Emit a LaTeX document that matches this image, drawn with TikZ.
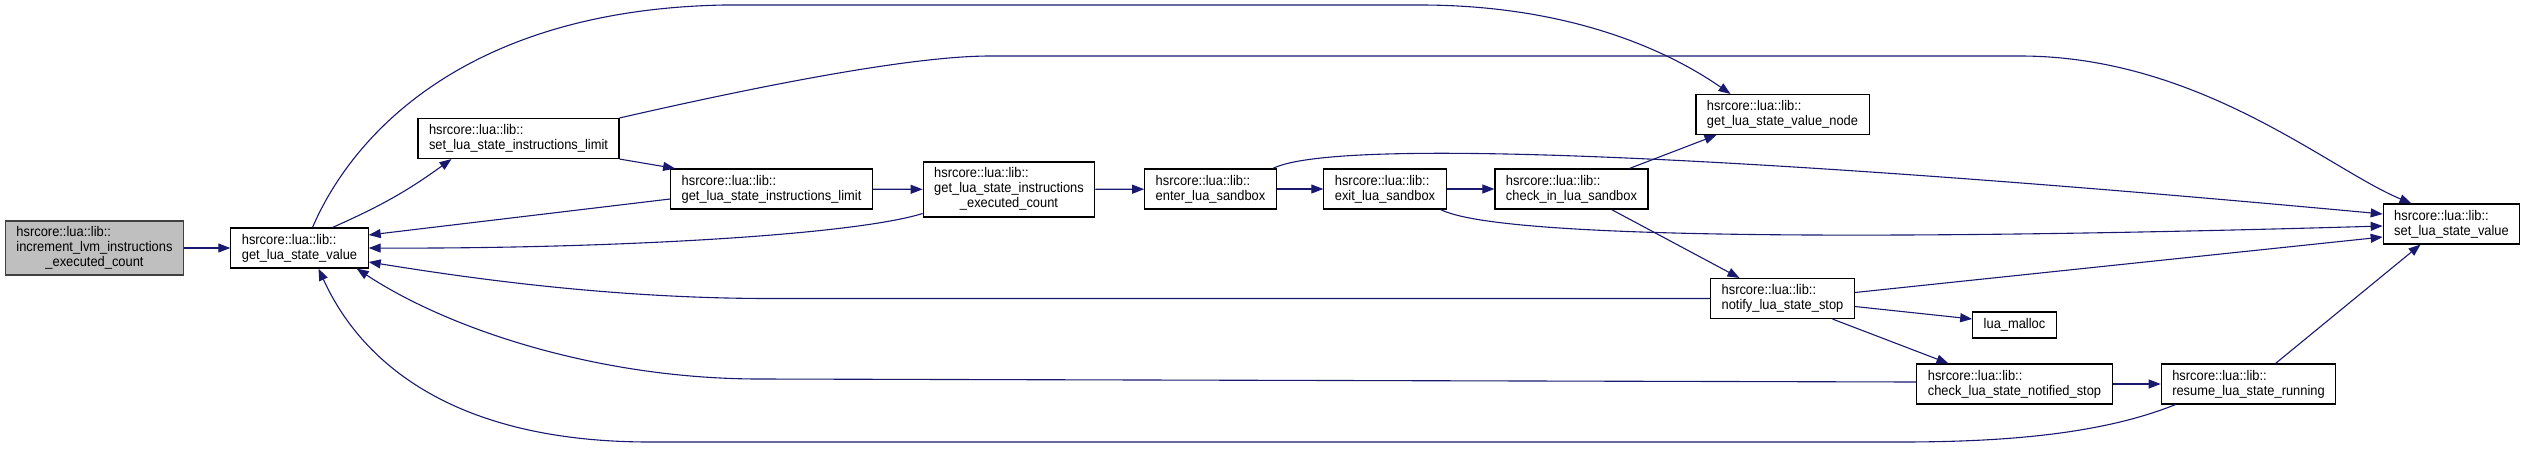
\documentclass[tikz,border=0pt]{standalone}
\usepackage{fontspec}
\setmainfont{Liberation Sans}[FakeStretch=0.92]
\usetikzlibrary{arrows.meta}
\definecolor{edgeblue}{HTML}{191970}
\definecolor{rootgray}{HTML}{BFBFBF}

\begin{document}
\begin{tikzpicture}[x=1pt, y=-1pt,
  fn/.style={draw=black, fill=white, line width=1.1pt, inner xsep=11pt, inner ysep=3pt,
    minimum height=40pt, align=left, font=\fontsize{14}{15}\selectfont},
  call/.style={draw=edgeblue, line width=1.1pt, -{Triangle[length=12pt, width=9pt]}}]
  \useasboundingbox (0,0) rectangle (2525,448);

  % Functions
  \node[fn, fill=rootgray, draw=black!75, minimum height=54pt] (incr) at (94.5,248)
    {\begin{tabular}{@{}l@{}}hsrcore::lua::lib::\\increment\_lvm\_instructions\\\multicolumn{1}{@{}c@{}}{\_executed\_count}\end{tabular}};
  \node[fn] (getval) at (299.5,248) {hsrcore::lua::lib::\\get\_lua\_state\_value};
  \node[fn] (setlim) at (518.5,138.5) {hsrcore::lua::lib::\\set\_lua\_state\_instructions\_limit};
  \node[fn] (getlim) at (771.5,189) {hsrcore::lua::lib::\\get\_lua\_state\_instructions\_limit};
  \node[fn, minimum height=55pt] (execcount) at (1009,189.5)
    {\begin{tabular}{@{}l@{}}hsrcore::lua::lib::\\get\_lua\_state\_instructions\\\multicolumn{1}{@{}c@{}}{\_executed\_count}\end{tabular}};
  \node[fn] (entersb) at (1210.5,189) {hsrcore::lua::lib::\\enter\_lua\_sandbox};
  \node[fn] (exitsb) at (1385,189) {hsrcore::lua::lib::\\exit\_lua\_sandbox};
  \node[fn] (checkin) at (1571.5,189) {hsrcore::lua::lib::\\check\_in\_lua\_sandbox};
  \node[fn] (valnode) at (1782.5,114.5) {hsrcore::lua::lib::\\get\_lua\_state\_value\_node};
  \node[fn] (setval) at (2451.5,224) {hsrcore::lua::lib::\\set\_lua\_state\_value};
  \node[fn] (notify) at (1782.5,298.5) {hsrcore::lua::lib::\\notify\_lua\_state\_stop};
  \node[fn, minimum height=26pt, inner ysep=1pt] (malloc) at (2014.5,325) {lua\_malloc};
  \node[fn] (checknot) at (2014.5,384) {hsrcore::lua::lib::\\check\_lua\_state\_notified\_stop};
  \node[fn] (resume) at (2248.5,384) {hsrcore::lua::lib::\\resume\_lua\_state\_running};

  % Straight calls
  \draw[call] (incr) -- (getval);
  \foreach \a/\b in {getlim/execcount, execcount/entersb, entersb/exitsb, exitsb/checkin, checknot/resume}
    \draw[call] (\a) -- (\b);
  \draw[call] ([xshift=33pt]getval.north) to[bend right=6] ([xshift=-67pt]setlim.south);
  \draw[call] (setlim.south east) -- ([xshift=5pt]getlim.north west);
  \draw[call] ([yshift=-10pt]getlim.west) -- ([yshift=13pt]getval.east);
  \draw[call] ([xshift=58pt]checkin.north) -- ([xshift=-66pt]valnode.south);
  \draw[call] ([xshift=40pt]checkin.south) -- ([xshift=-43pt]notify.north);
  \draw[call] ([yshift=6pt]notify.east) -- ([yshift=-13pt]setval.west);
  \draw[call] ([yshift=-8pt]notify.east) -- ([yshift=6pt]malloc.west);
  \draw[call] ([xshift=50pt]notify.south) -- ([xshift=-66pt]checknot.north);
  \draw[call] ([xshift=27pt]resume.north) -- ([xshift=-31pt]setval.south);

  % Curved calls
  \draw[call] ([xshift=13pt]getval.north) .. controls (350,140) and (460,10) .. (724,5)
    -- (1420,5) .. controls (1560,5) and (1660,45) .. ([xshift=-52pt]valnode.north);
  \draw[call] (setlim.north east) .. controls (720,95) and (900,56) .. (990,56)
    -- (2020,56) .. controls (2200,56) and (2330,170) .. ([xshift=-40pt]setval.north);
  \draw[call] ([yshift=-24pt]execcount.west) .. controls (850,236) and (600,249) .. (getval.east);
  \draw[call] ([xshift=-4pt]entersb.north east) .. controls (1340,135) and (1800,160) .. ([yshift=10pt]setval.west);
  \draw[call] ([xshift=-6pt]exitsb.south east) .. controls (1500,240) and (1900,240) .. ([yshift=-2pt]setval.west);
  \draw[call] (notify.west) -- (770,298.5) .. controls (600,298.5) and (450,275) .. ([yshift=-14pt]getval.east);
  \draw[call] ([yshift=2pt]checknot.west) -- (760,379) .. controls (600,379) and (450,330) .. ([xshift=-12pt]getval.south east);
  \draw[call] ([xshift=-73pt]resume.south) .. controls (2100,435) and (2000,442) .. (1900,442)
    -- (650,442) .. controls (450,442) and (360,360) .. ([xshift=19pt]getval.south);
\end{tikzpicture}
\end{document}
